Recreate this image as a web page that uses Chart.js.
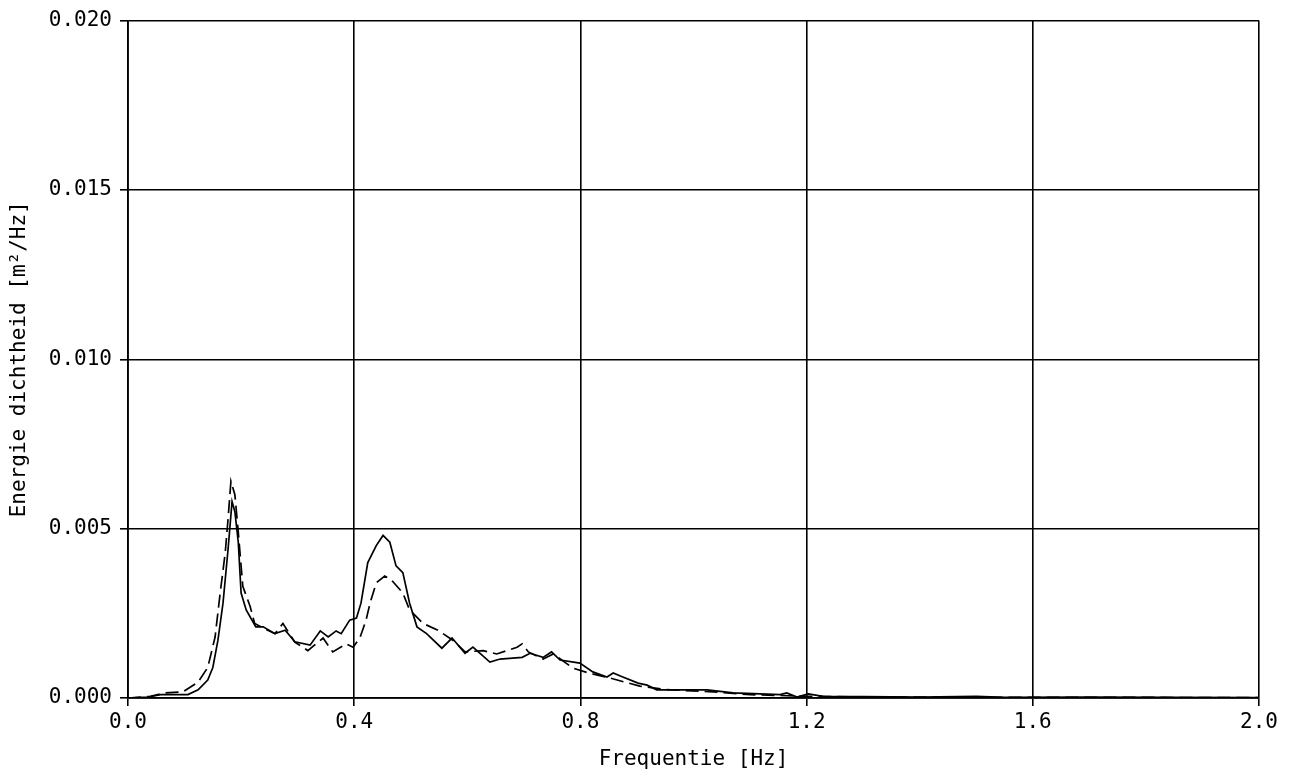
<!DOCTYPE html>
<html>
<head>
<meta charset="utf-8">
<title>Energie dichtheid</title>
<script src="https://cdn.jsdelivr.net/npm/chart.js@4/dist/chart.umd.min.js"></script>
<style>
  html, body { margin: 0; padding: 0; background: #fff; }
  #wrap { width: 1294px; height: 773px; position: relative; }
</style>
</head>
<body>
<div id="wrap"><canvas id="spectrum"></canvas></div>
<script>
// measured spectrum (solid)
const freqSolid = [0, 0.035, 0.058, 0.08, 0.106, 0.124, 0.141, 0.15, 0.159, 0.168, 0.177, 0.184, 0.189, 0.195, 0.2, 0.209, 0.226, 0.239, 0.26, 0.278, 0.295, 0.322, 0.34, 0.354, 0.368, 0.377, 0.392, 0.404, 0.412, 0.424, 0.439, 0.451, 0.463, 0.474, 0.486, 0.498, 0.511, 0.528, 0.555, 0.573, 0.596, 0.61, 0.64, 0.658, 0.697, 0.711, 0.734, 0.749, 0.764, 0.799, 0.822, 0.847, 0.858, 0.875, 0.902, 0.918, 0.935, 1.024, 1.07, 1.153, 1.165, 1.183, 1.203, 1.229, 1.3, 1.4, 1.5, 1.55, 1.7, 1.85, 2.0];
const energySolid = [0, 0.00003, 0.0001, 0.0001, 0.0001, 0.00024, 0.00053, 0.0009, 0.0017, 0.0028, 0.0044, 0.0058, 0.0055, 0.0046, 0.0031, 0.0026, 0.0021, 0.0021, 0.0019, 0.002, 0.00166, 0.00156, 0.00198, 0.0018, 0.00198, 0.0019, 0.0023, 0.00236, 0.0028, 0.004, 0.0045, 0.0048, 0.0046, 0.0039, 0.0037, 0.0028, 0.0021, 0.0019, 0.00147, 0.00177, 0.00132, 0.0015, 0.00106, 0.00115, 0.0012, 0.00132, 0.0012, 0.00136, 0.00112, 0.00103, 0.00077, 0.00062, 0.00074, 0.00062, 0.00044, 0.00038, 0.00024, 0.00024, 0.00015, 0.0001, 0.00015, 0.00003, 0.00012, 0.00005, 0.00004, 0.00003, 0.00005, 0.00002, 0.00003, 0.00002, 0.00001];

// second spectrum (dashed)
const freqDashed = [0, 0.04, 0.065, 0.097, 0.124, 0.141, 0.154, 0.163, 0.172, 0.177, 0.182, 0.189, 0.195, 0.203, 0.216, 0.224, 0.235, 0.26, 0.274, 0.295, 0.318, 0.345, 0.362, 0.386, 0.398, 0.41, 0.421, 0.428, 0.439, 0.454, 0.465, 0.486, 0.498, 0.522, 0.548, 0.575, 0.596, 0.628, 0.652, 0.688, 0.697, 0.708, 0.734, 0.752, 0.787, 0.814, 0.85, 0.905, 0.95, 1.035, 1.1, 1.2, 1.3, 1.5, 1.7, 2.0];
const energyDashed = [0, 0.00005, 0.00015, 0.00018, 0.00047, 0.0009, 0.0018, 0.0031, 0.0043, 0.0053, 0.0064, 0.006, 0.0049, 0.0033, 0.0027, 0.0022, 0.0021, 0.0019, 0.0022, 0.00165, 0.0014, 0.00177, 0.00136, 0.0016, 0.0015, 0.00177, 0.0023, 0.0028, 0.0034, 0.0036, 0.0035, 0.0031, 0.0026, 0.0022, 0.002, 0.0017, 0.00136, 0.0014, 0.0013, 0.0015, 0.0016, 0.00136, 0.00115, 0.0013, 0.00088, 0.00074, 0.0006, 0.00035, 0.00025, 0.00018, 0.0001, 0.00005, 0.00003, 0.00002, 0.00002, 0.00001];

// axis ticks
const xTicks = [0, 0.4, 0.8, 1.2, 1.6, 2.0];
const yTicks = [0, 0.005, 0.01, 0.015, 0.02];

document.addEventListener("DOMContentLoaded", () => {
  const FONT = { family: "'DejaVu Sans Mono', monospace", size: 21 };
  const toPoints = (xs, ys) => xs.map((x, i) => ({ x, y: ys[i] }));

  const grid = {
    display: true,
    color: "#000",
    lineWidth: 1.6,
    drawTicks: true,
    tickLength: 8,
    tickColor: "#000",
  };

  new Chart(document.getElementById("spectrum"), {
    type: "line",
    data: {
      datasets: [
        {
          data: toPoints(freqSolid, energySolid),
          borderColor: "#000",
          borderWidth: 1.7,
          pointRadius: 0,
          tension: 0,
          fill: false,
        },
        {
          data: toPoints(freqDashed, energyDashed),
          borderColor: "#000",
          borderWidth: 1.7,
          borderDash: [13, 6],
          pointRadius: 0,
          tension: 0,
          fill: false,
        },
      ],
    },
    options: {
      responsive: true,
      maintainAspectRatio: false,
      animation: false,
      layout: { padding: { top: 20, right: 35, left: 0, bottom: 0 } },
      plugins: { legend: { display: false }, tooltip: { enabled: false } },
      scales: {
        x: {
          type: "linear",
          min: 0,
          max: 2,
          afterFit: (s) => { s.height = 75; },
          afterBuildTicks: (s) => { s.ticks = xTicks.map((v) => ({ value: v })); },
          grid,
          border: { display: true, color: "#000", width: 1.8 },
          ticks: {
            color: "#000",
            font: FONT,
            padding: 4,
            maxRotation: 0,
            autoSkip: false,
            callback: (v) => Number(v).toFixed(1),
          },
          title: {
            display: true,
            text: "Frequentie [Hz]",
            color: "#000",
            font: FONT,
            padding: { top: 0, bottom: 1 },
          },
        },
        y: {
          type: "linear",
          min: 0,
          max: 0.02,
          afterFit: (s) => { s.width = 128; },
          afterBuildTicks: (s) => { s.ticks = yTicks.map((v) => ({ value: v })); },
          grid,
          border: { display: true, color: "#000", width: 1.8 },
          ticks: {
            color: "#000",
            font: FONT,
            padding: 8,
            autoSkip: false,
            callback: (v) => Number(v).toFixed(3),
          },
          title: {
            display: true,
            text: "Energie dichtheid [m²/Hz]",
            color: "#000",
            font: FONT,
            padding: { top: 7, bottom: 0 },
          },
        },
      },
    },
  });
});
</script>
</body>
</html>
